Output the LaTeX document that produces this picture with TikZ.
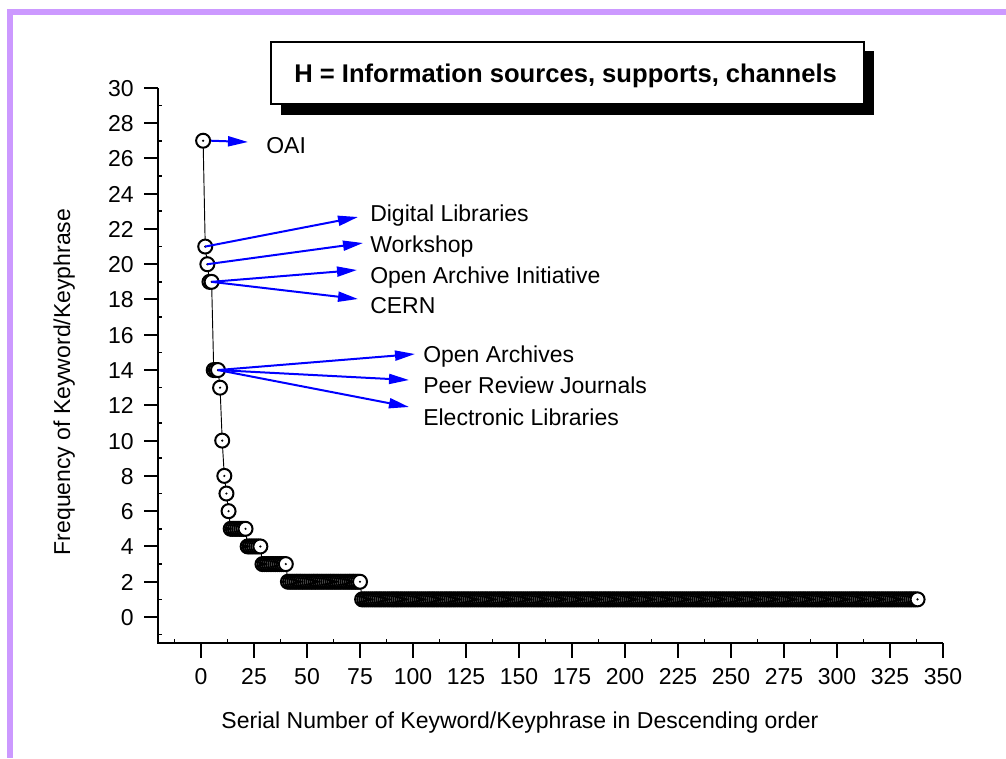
\documentclass[tikz,border=0pt]{standalone}
\usepackage{fontspec}
\setmainfont{Liberation Sans}
\usetikzlibrary{arrows.meta}
\definecolor{framepurple}{RGB}{204,153,255}
\definecolor{pureblue}{RGB}{0,0,255}

\begin{document}
\begin{tikzpicture}[x=0.75pt,y=-0.75pt,
  axisline/.style={line width=1.5pt},
  tickline/.style={line width=1.5pt},
  minortick/.style={line width=1.2pt},
  mk/.style={circle,draw=black,fill=white,line width=1.5pt,minimum size=10.5pt,inner sep=0pt},
  lbl/.style={font=\fontsize{17.25}{20}\selectfont,inner sep=0pt},
  titlefont/.style={font=\bfseries\fontsize{19.2}{22}\selectfont,inner sep=0pt},
  callout/.style={pureblue,line width=1.5pt,-{Triangle[length=15pt,width=7.5pt]}},
]
\useasboundingbox (0,0) rectangle (1006,758);

% page frame
\fill[framepurple] (7,9) rectangle (1006,15);
\fill[framepurple] (7,9) rectangle (13,758);

% title box with drop shadow
\fill[black] (281,51) rectangle (874,115);
\node[draw=black,fill=white,line width=1.5pt,minimum width=593*0.75pt,minimum height=62*0.75pt,anchor=north west,inner sep=0pt] (titlebox) at (270,41) {};
\node[titlefont,anchor=base west] (titletext) at (294,82.5) {H = Information sources, supports, channels};

% axes
\draw[axisline] (158,88) -- (158,643) -- (943,643);
% x ticks and labels
\foreach \v in {0,25,...,350} {
  \draw[tickline] ({201+2.12*\v},643) -- ({201+2.12*\v},658);
  \node[lbl,anchor=base] (xl\v) at ({201+2.12*\v},684) {\v};
}
\foreach \k in {0,...,14} {
  \draw[minortick] ({201+2.12*(25*\k-12.5)},643) -- ({201+2.12*(25*\k-12.5)},639);
}
% y ticks and labels
\foreach \v in {0,2,...,30} {
  \draw[tickline] (144,{617-17.64*\v}) -- (158,{617-17.64*\v});
  \node[lbl,anchor=base east] (yl\v) at (134,{625.5-17.64*\v}) {\v};
}
\foreach \v in {-1,1,...,29} {
  \draw[minortick] (158,{617-17.64*\v}) -- (162,{617-17.64*\v});
}

% axis titles
\node[lbl,anchor=base] (xtitle) at (520,728) {Serial Number of Keyword/Keyphrase in Descending order};
\node[lbl,anchor=base,rotate=90] (ytitle) at (70,382) {Frequency of Keyword/Keyphrase};

% connecting line through the data
\begin{scope}[shift={(201,617)},x=1.59pt,y=13.23pt]
  \draw[line width=0.7pt] plot coordinates {(1,27) (2,21) (3,20) (4,19) (5,19) (6,14) (8,14) (9,13) (10,10) (11,8) (12,7) (13,6) (14,5) (21,5) (22,4) (28,4) (29,3) (40,3) (41,2) (75,2) (76,1) (338,1)};
\end{scope}

% data markers: rank ranges with equal frequency
\foreach \a/\b/\f in {1/1/27,2/2/21,3/3/20,4/5/19,6/8/14,9/9/13,10/10/10,11/11/8,12/12/7,13/13/6,14/21/5,22/28/4,29/40/3,41/75/2,76/338/1} {
  \foreach \r in {\a,...,\b} {
    \node[mk] (p\r) at ({201+2.12*\r},{617-17.64*\f}) {};
    \fill (p\r.center) circle (0.9pt);
  }
}

% callout labels
\node[lbl,anchor=base west] (lOAI) at (266,153) {OAI};
\node[lbl,anchor=base west] (lDL) at (370,221) {Digital Libraries};
\node[lbl,anchor=base west] (lWS) at (370,252) {Workshop};
\node[lbl,anchor=base west] (lOAIn) at (370,283) {Open Archive Initiative};
\node[lbl,anchor=base west] (lCERN) at (370,313) {CERN};
\node[lbl,anchor=base west] (lOA) at (423,362) {Open Archives};
\node[lbl,anchor=base west] (lPR) at (423,393) {Peer Review Journals};
\node[lbl,anchor=base west] (lEL) at (423,425) {Electronic Libraries};

% arrow tips
\coordinate (tOAI) at (248,142);
\coordinate (tDL) at (358,217);
\coordinate (tWS) at (363,243);
\coordinate (tOAIn) at (357,270);
\coordinate (tCERN) at (358,299);
\coordinate (tOA) at (415,354);
\coordinate (tPR) at (409,380);
\coordinate (tEL) at (409,407);

\draw[callout] (p1.east) -- (tOAI);
\draw[callout] (p2.center) -- (tDL);
\draw[callout] (p3.center) -- (tWS);
\draw[callout] (p5.center) -- (tOAIn);
\draw[callout] (p5.center) -- (tCERN);
\draw[callout] (p8.center) -- (tOA);
\draw[callout] (p8.center) -- (tPR);
\draw[callout] (p8.center) -- (tEL);
\end{tikzpicture}
\end{document}
